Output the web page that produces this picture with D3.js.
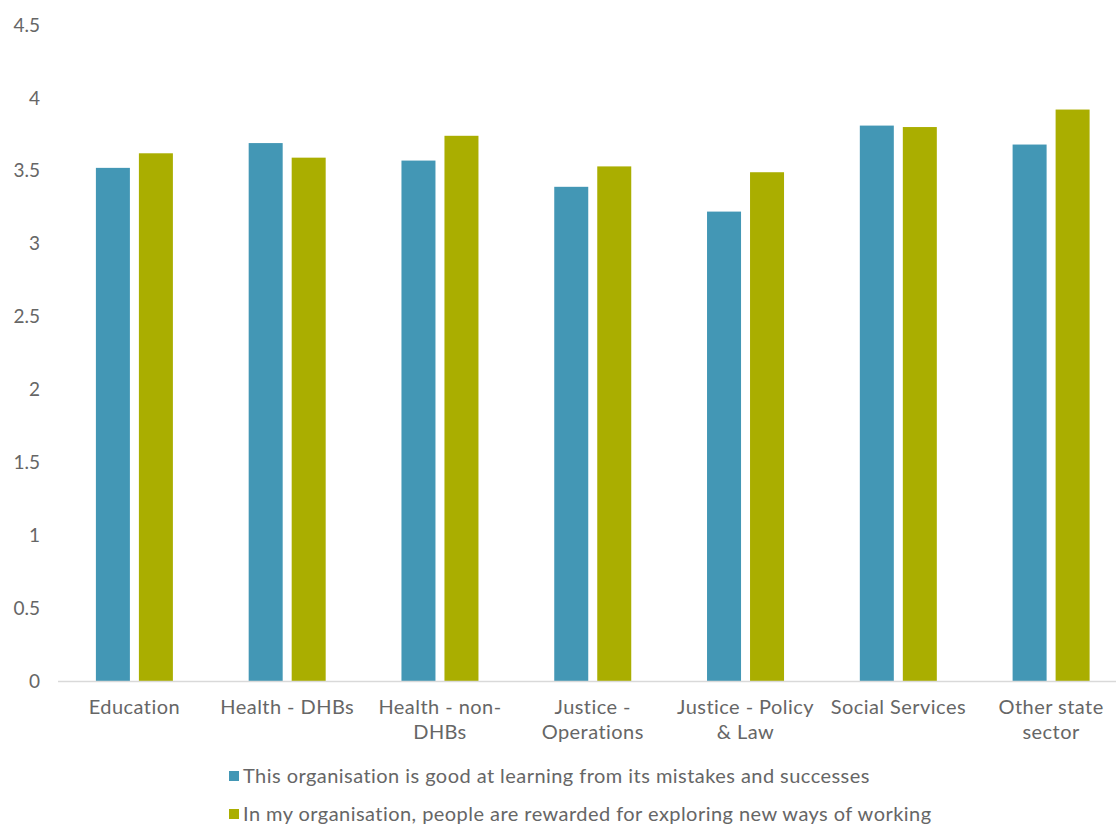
<!DOCTYPE html>
<html>
<head>
<meta charset="utf-8">
<script src="https://cdn.jsdelivr.net/npm/d3@7"></script>
<style>
  html, body { margin: 0; padding: 0; background: #fff; }
  svg { display: block; font-family: Lato, "Open Sans", sans-serif; }
</style>
</head>
<body>
<svg id="chart" width="1116" height="825"></svg>
<script>
const categories = [
  ["Education"],
  ["Health - DHBs"],
  ["Health - non-", "DHBs"],
  ["Justice -", "Operations"],
  ["Justice - Policy", "& Law"],
  ["Social Services"],
  ["Other state", "sector"]
];
const seriesNames = [
  "This organisation is good at learning from its mistakes and successes",
  "In my organisation, people are rewarded for exploring new ways of working"
];
const learningValues = [3.52, 3.69, 3.57, 3.39, 3.22, 3.81, 3.68];
const rewardedValues = [3.62, 3.59, 3.74, 3.53, 3.49, 3.80, 3.92];
const yTicks = [0, 0.5, 1, 1.5, 2, 2.5, 3, 3.5, 4, 4.5];
const colors = ["#4397b5", "#aaae00"];

const svg = d3.select("#chart");
const textColor = "#666666";
const catKeys = categories.map((c, i) => i);
const series = [learningValues, rewardedValues];

const x = d3.scaleBand().domain(catKeys).range([58, 1127.5]).paddingInner(0).paddingOuter(0);
const x1 = d3.scaleBand().domain([0, 1]).range([0, 77]).paddingInner(9 / 43).paddingOuter(0);
const y = d3.scaleLinear().domain([0, 4.5]).range([681, 25]);

// y axis labels
svg.append("g").selectAll("text").data(yTicks).join("text")
  .attr("x", 40).attr("y", d => y(d)).attr("dy", "0.35em")
  .attr("text-anchor", "end").attr("fill", textColor)
  .style("font-size", "19px").text(d => d);

// bars
const groups = svg.append("g").selectAll("g").data(catKeys).join("g")
  .attr("transform", d => `translate(${x(d) + x.bandwidth() / 2 - 38.5},0)`);
groups.selectAll("rect").data(d => series.map((s, si) => ({ si, v: s[d] }))).join("rect")
  .attr("x", d => x1(d.si))
  .attr("width", x1.bandwidth())
  .attr("y", d => y(d.v))
  .attr("height", d => y(0) - y(d.v))
  .attr("fill", d => colors[d.si]);

// x axis line
svg.append("line").attr("x1", 58).attr("x2", 1127.5).attr("y1", y(0) + 0.5).attr("y2", y(0) + 0.5)
  .attr("stroke", "#d9d9d9").attr("stroke-width", 1.3);

// category labels
const lab = svg.append("g").selectAll("text").data(catKeys).join("text")
  .attr("text-anchor", "middle").attr("fill", textColor)
  .style("font-size", "20px").style("letter-spacing", "0.45px")
  .attr("transform", d => `translate(${x(d) + x.bandwidth() / 2},714)`);
lab.selectAll("tspan").data(d => categories[d]).join("tspan")
  .attr("x", 0).attr("y", (d, i) => i * 25).text(d => d);

// legend
const legend = svg.append("g").selectAll("g").data(seriesNames).join("g")
  .attr("transform", (d, i) => `translate(229,${776 + i * 38})`);
legend.append("rect").attr("x", 0).attr("y", -5).attr("width", 10).attr("height", 10)
  .attr("fill", (d, i) => colors[i]);
legend.append("text").attr("x", 14).attr("y", 0).attr("dy", "0.35em")
  .attr("fill", textColor).style("font-size", "20px").style("letter-spacing", "0.45px")
  .text(d => d);
</script>
</body>
</html>
